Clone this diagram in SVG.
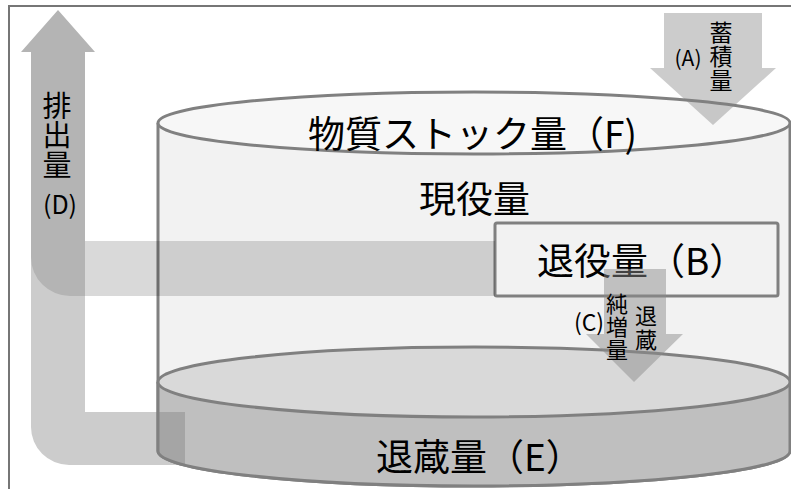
<svg xmlns="http://www.w3.org/2000/svg" width="791" height="489" viewBox="0 0 791 489">
<style>
.t{font-family:"Noto Sans CJK JP","Noto Sans",sans-serif;fill:#000}
.big{font-size:37px}
.m{text-anchor:middle}
.vt{writing-mode:vertical-rl;text-anchor:start}
.ol{stroke:#808080;stroke-width:3}
</style>
<rect width="791" height="489" fill="#fff"/>
<g id="frame" stroke="#767676" stroke-width="2" fill="none">
<path d="M9,489 V6 H791"/>
</g>
<g id="stock">
<path class="ol" d="M158,123 V451 A316,35 0 0 0 790,451 V123" fill="#f2f2f2"/>
<ellipse class="ol" cx="474" cy="123" rx="316" ry="31" fill="#f7f7f7"/>
<text class="t big" x="308" y="148">物質ストック量（F)</text>
<text class="t big" x="419" y="213">現役量</text>
</g>
<g id="hoarded">
<path class="ol" d="M158,382 V451 A316,35 0 0 0 790,451 V382" fill="#bfbfbf"/>
<ellipse class="ol" cx="474" cy="382" rx="316" ry="35" fill="#d9d9d9"/>
<text class="t big" x="376" y="471">退蔵量（E）</text>
</g>
<g id="retired">
<rect class="ol" x="495" y="223" width="283" height="73" rx="2" fill="#f2f2f2"/>
<text class="t big" x="537" y="275">退役量（B）</text>
</g>
<g id="connectors">
<path d="M31,241 H85 V412 H185 V465 H69 A38,38 0 0 1 31,427 Z" fill="#808080" fill-opacity="0.4"/>
<rect x="85" y="241" width="410" height="55" fill="#000" fill-opacity="0.15"/>
<path d="M58,10 L95,52 H85 V296 H70 A39,39 0 0 1 31,257 V52 H21 Z" fill="#b4b4b4"/>
<path d="M664,13 H762 V68 H776 L713,125 L650,68 H664 Z" fill="#808080" fill-opacity="0.4"/>
<path d="M604,269 H666 V334 H683 L634,382 L586,334 H604 Z" fill="#8a8a8a" fill-opacity="0.48"/>
</g>
<g id="labels">
<text class="t vt" font-size="29" x="57" y="91" letter-spacing="0.5">排出量</text>
<text class="t m" font-size="25" x="60" y="214">(D)</text>
<text class="t vt" font-size="23" x="721" y="21" letter-spacing="1">蓄積量</text>
<text class="t m" font-size="21" x="688" y="66">(A)</text>
<text class="t vt" font-size="22" x="617" y="293" letter-spacing="1">純増量</text>
<text class="t vt" font-size="22" x="646" y="305" letter-spacing="2">退蔵</text>
<text class="t m" font-size="23" x="589" y="331">(C)</text>
</g>
</svg>
